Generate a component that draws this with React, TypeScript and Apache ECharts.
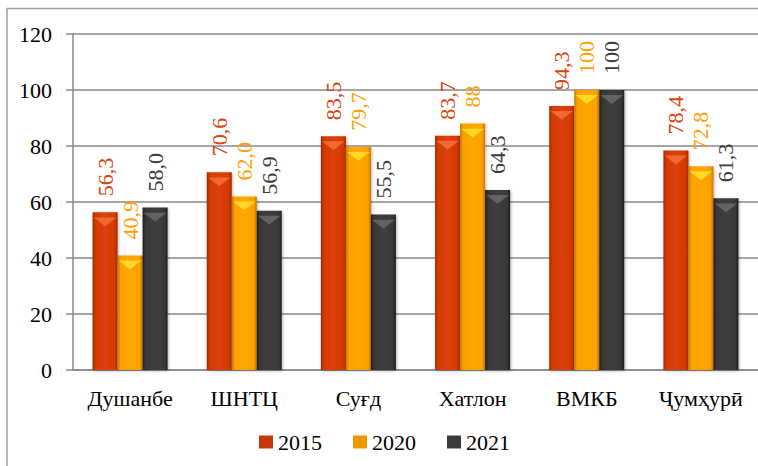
import React, { useEffect, useRef } from "react";
import * as echarts from "echarts";

const categories = ["Душанбе", "ШНТЦ", "Суғд", "Хатлон", "ВМКБ", "Ҷумҳурӣ"];
const values2015 = [56.3, 70.6, 83.5, 83.7, 94.3, 78.4];
const values2020 = [40.9, 62.0, 79.7, 88, 100, 72.8];
const values2021 = [58.0, 56.9, 55.5, 64.3, 100, 61.3];
const labels2015 = ["56,3", "70,6", "83,5", "83,7", "94,3", "78,4"];
const labels2020 = ["40,9", "62,0", "79,7", "88", "100", "72,8"];
const labels2021 = ["58,0", "56,9", "55,5", "64,3", "100", "61,3"];
const seriesNames = ["2015", "2020", "2021"];
const yTicks = [0, 20, 40, 60, 80, 100, 120];

const FONT = "serif";

function grad(dark: string, main: string, light: string) {
  return new echarts.graphic.LinearGradient(0, 0, 1, 0, [
    { offset: 0, color: dark },
    { offset: 0.12, color: main },
    { offset: 0.5, color: light },
    { offset: 0.88, color: main },
    { offset: 1, color: dark },
  ]);
}

export default function App() {
  const ref = useRef<HTMLDivElement>(null);
  useEffect(() => {
    if (!ref.current) return;
    const chart = echarts.init(ref.current, undefined, { renderer: "svg" });
    const styles = [
      { color: grad("#a02800", "#d43a04", "#dc4008"), label: "#d9430f", legend: "#c83808", top: "#f4703c" },
      { color: grad("#c27800", "#ffa000", "#ffa800"), label: "#ffa000", legend: "#f09800", top: "#ffe030" },
      { color: grad("#1e1e1e", "#383838", "#3e3e3e"), label: "#3a3a3a", legend: "#3a3a3a", top: "#6a6a6a" },
    ];
    const vals = [values2015, values2020, values2021];
    const labs = [labels2015, labels2020, labels2021];
    const bars = seriesNames.map((name, i) => ({
      name,
      type: "bar",
      data: vals[i],
      barWidth: 25,
      barGap: "0%",
      itemStyle: {
        color: styles[i].color,
        shadowBlur: 3,
        shadowColor: "rgba(0,0,0,0.3)",
        shadowOffsetX: 1,
        shadowOffsetY: 1,
      },
      label: {
        show: true,
        position: "top",
        rotate: 90,
        align: "left",
        verticalAlign: "middle",
        distance: 16,
        fontFamily: FONT,
        fontSize: 22,
        color: styles[i].label,
        formatter: (p: any) => labs[i][p.dataIndex],
      },
      z: 2,
    }));
    const tops = seriesNames.map((name, i) => ({
      name: "top" + name,
      type: "pictorialBar",
      data: vals[i],
      barWidth: 25,
      barGap: "0%",
      symbol: "triangle",
      symbolRotate: 180,
      symbolSize: [23, 9],
      symbolPosition: "end",
      symbolOffset: [0, 5],
      itemStyle: { color: styles[i].top, opacity: 0.85 },
      silent: true,
      z: 3,
    }));
    chart.setOption({
      animation: false,
      backgroundColor: "#fff",
      textStyle: { fontFamily: FONT, fontSize: 22 },
      grid: { left: 73, top: 34, width: 690, height: 336, containLabel: false },
      legend: {
        data: seriesNames.map((n, i) => ({ name: n, itemStyle: { color: styles[i].legend } })),
        left: 254,
        top: 426,
        icon: "rect",
        itemWidth: 14,
        itemHeight: 13,
        itemGap: 31,
        textStyle: { fontFamily: FONT, fontSize: 22, color: "#000" },
      },
      xAxis: {
        type: "category",
        data: categories,
        axisLine: { lineStyle: { color: "#888", width: 1.5 } },
        axisTick: { show: false },
        axisLabel: { fontFamily: FONT, fontSize: 22, color: "#000", margin: 17 },
      },
      yAxis: {
        type: "value",
        min: yTicks[0],
        max: yTicks[yTicks.length - 1],
        interval: 20,
        axisLine: { show: true, lineStyle: { color: "#888", width: 1.5 } },
        axisTick: { show: true, length: 7, lineStyle: { color: "#888", width: 1.5 } },
        splitLine: { lineStyle: { color: "#888", width: 1.5 } },
        axisLabel: { fontFamily: FONT, fontSize: 22, color: "#000", margin: 21 },
      },
      graphic: [
        {
          type: "rect",
          shape: { x: 7, y: 8.5, width: 800, height: 500 },
          style: { fill: "none", stroke: "#a0a0a0", lineWidth: 1.5 },
          silent: true,
        },
      ],
      series: [...bars, ...tops],
    });
    return () => chart.dispose();
  }, []);
  return (
    <div
      ref={ref}
      style={{ position: "absolute", left: 0, top: 0, width: 758, height: 466 }}
    />
  );
}
